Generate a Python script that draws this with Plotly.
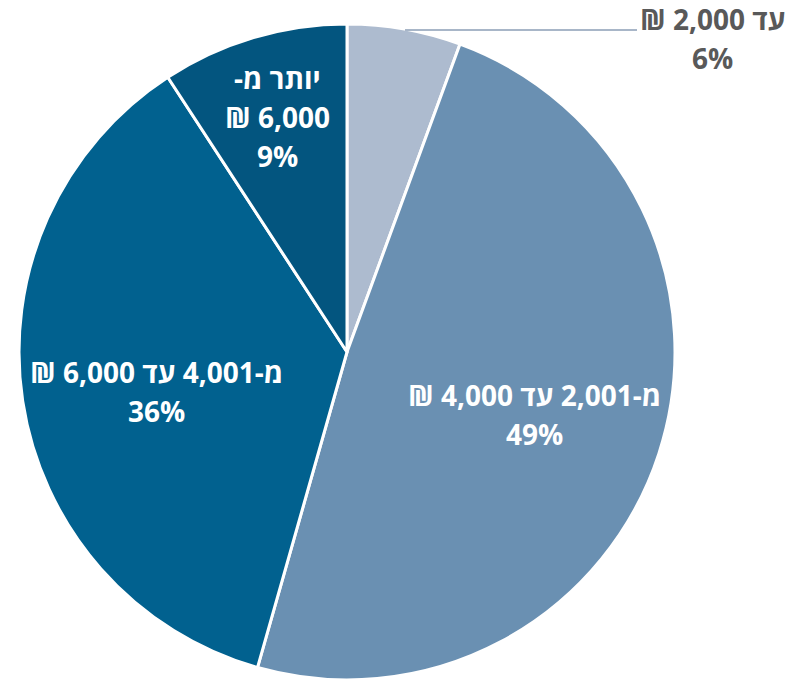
import plotly.graph_objects as go

# ---- data ----
categories = ["עד 2,000 ₪", "מ-2,001 עד 4,000 ₪", "מ-4,001 עד 6,000 ₪", "יותר מ-<br>6,000 ₪"]
values = [5.6, 48.8, 36.4, 9.2]
colors = ["#ADBBCF", "#6A90B2", "#01618F", "#03557F"]

# ---- layout constants ----
W, H = 794, 685
OFF = 8  # page body margin
ML, MT = 19 - OFF, 24 - OFF
PW, PH = 656, 656
MR, MB = W - ML - PW, H - MT - PH
RLM = "\u200f"
FONT = "Open Sans, Noto Sans, Liberation Sans, DejaVu Sans"
FS = 28
# label centre (first line) in screen pixels, line gap, text colour, font size per slice
label_anchor = [(712, 19, 39, "#595959", FS), (534, 395, 39, "white", FS),
                (156, 372, 39, "white", FS), (277, 78, 39, "white", FS)]

def px2paper(x, y):
    x, y = x - OFF, y - OFF
    return (x - ML) / PW, 1 - (y - MT) / PH

fig = go.Figure(go.Pie(
    labels=categories,
    values=values,
    marker=dict(colors=colors, line=dict(color="white", width=3)),
    sort=False,
    direction="clockwise",
    rotation=0,
    textinfo="none",
    hoverinfo="label+percent",
    showlegend=False,
    domain=dict(x=[0, 1], y=[0, 1]),
))

total = sum(values)
annotations = []
for cat, v, (ax, ay, gap, col, fs) in zip(categories, values, label_anchor):
    lines = cat.split("<br>") + [f"{v / total:.0%}"]
    for i, ln in enumerate(lines):
        xp, yp = px2paper(ax, ay + i * gap)
        annotations.append(dict(
            x=xp, y=yp, xref="paper", yref="paper",
            text=RLM + ln + RLM, showarrow=False,
            xanchor="center", yanchor="middle", borderpad=0,
            font=dict(family=FONT, size=fs, color=col, weight="bold"),
        ))

# leader line for the small slice
x0, y0 = px2paper(405, 30)
x1, y1 = px2paper(637, 30)
fig.add_shape(type="line", xref="paper", yref="paper", x0=x0, y0=y0, x1=x1, y1=y1,
              line=dict(color="#A8B6C8", width=2))

fig.update_layout(
    width=W, height=H,
    margin=dict(l=ML, r=MR, t=MT, b=MB),
    paper_bgcolor="white", plot_bgcolor="white",
    annotations=annotations,
)

fig.write_html("out.html")
